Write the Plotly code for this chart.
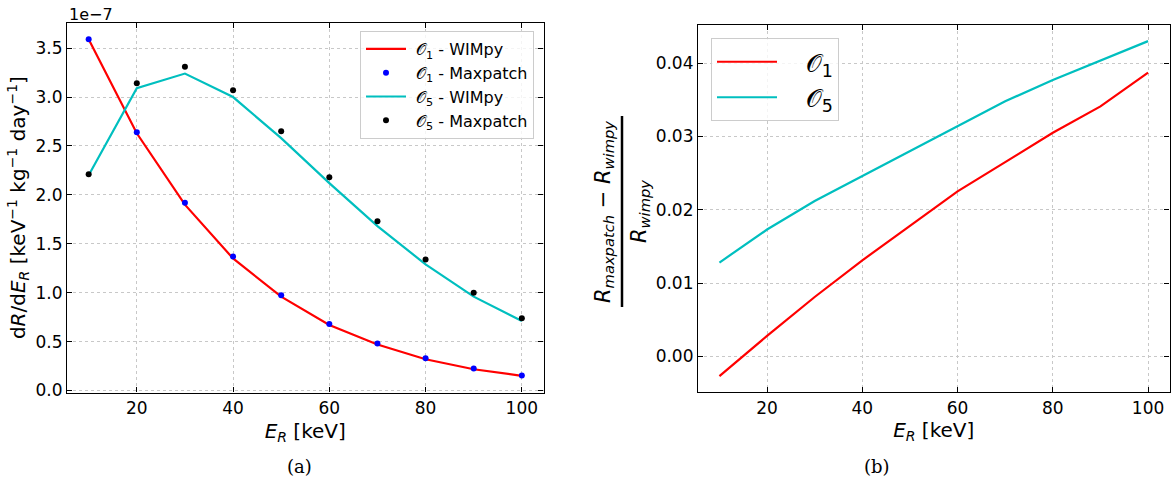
import plotly.graph_objects as go

# ---------------- data ----------------
E_R = [10, 20, 30, 40, 50, 60, 70, 80, 90, 100]
# left panel, units of 1e-7 keV^-1 kg^-1 day^-1
o1_wimpy = [3.59, 2.63, 1.90, 1.35, 0.960, 0.670, 0.470, 0.320, 0.218, 0.150]
o1_maxpatch = [3.59, 2.64, 1.92, 1.37, 0.975, 0.680, 0.480, 0.330, 0.225, 0.155]
o5_wimpy = [2.20, 3.09, 3.24, 3.00, 2.58, 2.12, 1.68, 1.29, 0.960, 0.710]
o5_maxpatch = [2.21, 3.14, 3.31, 3.07, 2.65, 2.18, 1.73, 1.34, 1.00, 0.740]
# right panel, relative difference
o1_ratio = [-0.0027, 0.0028, 0.0081, 0.0131, 0.0178, 0.0225, 0.0265, 0.0305, 0.0341, 0.0387]
o5_ratio = [0.0128, 0.0173, 0.0212, 0.0246, 0.0280, 0.0315, 0.0348, 0.0377, 0.0404, 0.0430]

xticks = [20, 40, 60, 80, 100]
yticks_a = [0.0, 0.5, 1.0, 1.5, 2.0, 2.5, 3.0, 3.5]
yticks_b = [0.00, 0.01, 0.02, 0.03, 0.04]

RED = "#ff0000"
CYAN = "#00bfbf"
BLUE = "#0000ff"
BLACK = "#000000"
O = "𝒪"
SP = "\u00a0"

W, H = 1171, 489
FONT = "DejaVu Sans"

fig = go.Figure()

fig.add_trace(go.Scatter(x=E_R, y=o1_wimpy, mode="lines", line=dict(color=RED, width=2.2),
                         name=f"{SP}{O}<sub>1</sub> - WIMpy", xaxis="x", yaxis="y", legend="legend"))
fig.add_trace(go.Scatter(x=E_R, y=o1_maxpatch, mode="markers", marker=dict(color=BLUE, size=6),
                         name=f"{SP}{O}<sub>1</sub> - Maxpatch", xaxis="x", yaxis="y", legend="legend"))
fig.add_trace(go.Scatter(x=E_R, y=o5_wimpy, mode="lines", line=dict(color=CYAN, width=2.2),
                         name=f"{SP}{O}<sub>5</sub> - WIMpy", xaxis="x", yaxis="y", legend="legend"))
fig.add_trace(go.Scatter(x=E_R, y=o5_maxpatch, mode="markers", marker=dict(color=BLACK, size=6),
                         name=f"{SP}{O}<sub>5</sub> - Maxpatch", xaxis="x", yaxis="y", legend="legend"))

fig.add_trace(go.Scatter(x=E_R, y=o1_ratio, mode="lines", line=dict(color=RED, width=2.2),
                         name=f"{SP}{SP}{SP}{O}<sub>1</sub>", xaxis="x2", yaxis="y2", legend="legend2"))
fig.add_trace(go.Scatter(x=E_R, y=o5_ratio, mode="lines", line=dict(color=CYAN, width=2.2),
                         name=f"{SP}{SP}{SP}{O}<sub>5</sub>", xaxis="x2", yaxis="y2", legend="legend2"))

axis_common = dict(
    showline=True, linecolor="black", linewidth=1.2, mirror="allticks",
    ticks="inside", ticklen=5, tickwidth=1, tickcolor="black",
    showgrid=True, gridcolor="#c8c8c8", griddash="dot", gridwidth=0.9,
    zeroline=False, tickfont=dict(family=FONT, size=17, color="black"),
    automargin=False,
)

fig.update_layout(
    width=W, height=H,
    margin=dict(l=0, r=0, t=0, b=0, autoexpand=False),
    plot_bgcolor="white", paper_bgcolor="white",
    font=dict(family=FONT, color="black"),
    xaxis=dict(domain=[67 / W, 543.5 / W], range=[5.5, 104.5], tickvals=xticks,
               anchor="y",
               title=dict(text="<i>E</i><sub><i>R</i></sub> [keV]", font=dict(size=20), standoff=6),
               **axis_common),
    yaxis=dict(domain=[1 - 392.5 / H, 1 - 22.7 / H], range=[-0.02, 3.76], tickvals=yticks_a,
               tickformat=".1f", anchor="x",
               title=dict(text="d<i>R</i>/d<i>E</i><sub><i>R</i></sub> [keV<sup>−1</sup> kg<sup>−1</sup> day<sup>−1</sup>]",
                          font=dict(size=20), standoff=4),
               **axis_common),
    xaxis2=dict(domain=[698 / W, 1169.5 / W], range=[5.5, 104.5], tickvals=xticks,
                anchor="y2",
                title=dict(text="<i>E</i><sub><i>R</i></sub> [keV]", font=dict(size=20), standoff=6),
                **axis_common),
    yaxis2=dict(domain=[1 - 392.3 / H, 1 - 25 / H], range=[-0.0049, 0.0452], tickvals=yticks_b,
                tickformat=".2f", anchor="x2", **axis_common),
    legend=dict(x=534 / W, xanchor="right", y=1 - 31 / H, yanchor="top",
                bgcolor="rgba(255,255,255,0.8)", bordercolor="#cccccc", borderwidth=1,
                font=dict(family=FONT, size=16), tracegroupgap=0, itemwidth=40),
    legend2=dict(x=711 / W, xanchor="left", y=1 - 38 / H, yanchor="top",
                 bgcolor="rgba(255,255,255,0.8)", bordercolor="#cccccc", borderwidth=1,
                 font=dict(family=FONT, size=25), tracegroupgap=0, itemwidth=60),
    showlegend=True,
)

anns = [
    dict(text="1e−7", x=67 / W, y=1 - 3 / H, xref="paper", yref="paper", xanchor="left",
         yanchor="top", showarrow=False, font=dict(family=FONT, size=16)),
    dict(text="(a)", x=300 / W, y=1 - 466 / H, xref="paper", yref="paper", showarrow=False,
         xanchor="center", yanchor="middle", font=dict(family="DejaVu Serif", size=18)),
    dict(text="(b)", x=877 / W, y=1 - 466 / H, xref="paper", yref="paper", showarrow=False,
         xanchor="center", yanchor="middle", font=dict(family="DejaVu Serif", size=18)),
    dict(text="<i>R</i><sub><i>maxpatch</i></sub> − <i>R</i><sub><i>wimpy</i></sub>",
         x=604 / W, y=1 - 212 / H, xref="paper", yref="paper", showarrow=False, textangle=-90,
         xanchor="center", yanchor="middle", font=dict(family=FONT, size=21)),
    dict(text="<i>R</i><sub><i>wimpy</i></sub>",
         x=640 / W, y=1 - 212 / H, xref="paper", yref="paper", showarrow=False, textangle=-90,
         xanchor="center", yanchor="middle", font=dict(family=FONT, size=21)),
]
fig.update_layout(annotations=anns)
fig.add_shape(type="line", xref="paper", yref="paper", x0=622 / W, x1=622 / W,
              y0=1 - 116 / H, y1=1 - 307 / H, line=dict(color="black", width=2.5))

fig.write_html("out.html")
